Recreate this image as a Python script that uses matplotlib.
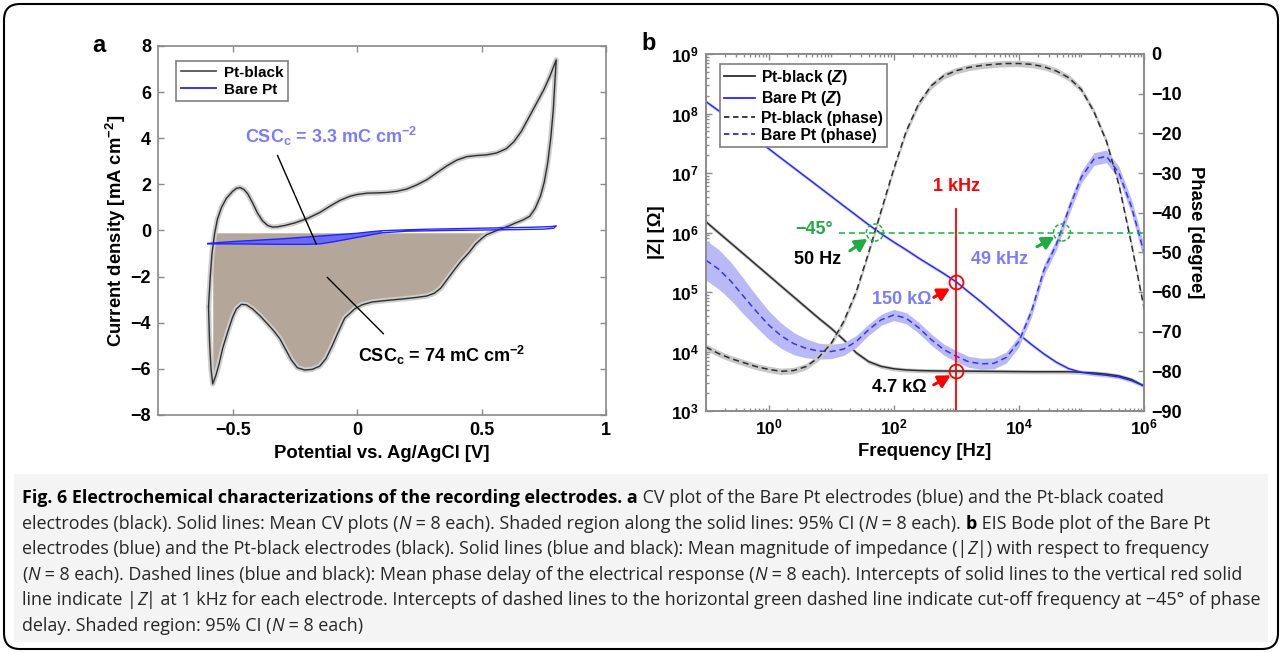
import numpy as np
import matplotlib
matplotlib.use("Agg")
import matplotlib.pyplot as plt
from matplotlib.patches import FancyBboxPatch, Rectangle
from matplotlib.transforms import IdentityTransform
from matplotlib.lines import Line2D
from matplotlib.ticker import LogLocator, NullFormatter

W, H = 1282, 653

# ---------------- panel a: CV data ----------------
# Pt-black, anodic sweep (-0.6 -> 0.8 V)
blk_an_x = [-0.597, -0.590, -0.583, -0.572, -0.561, -0.545, -0.525, -0.50, -0.485, -0.47,
            -0.455, -0.44, -0.42, -0.40, -0.38, -0.36, -0.34, -0.32, -0.29, -0.25,
            -0.20, -0.15, -0.11, -0.07, -0.03, 0.0, 0.04, 0.08, 0.12, 0.16,
            0.20, 0.24, 0.28, 0.32, 0.36, 0.40, 0.44, 0.48, 0.52, 0.56,
            0.60, 0.63, 0.66, 0.69, 0.72, 0.75, 0.775, 0.80]
blk_an_y = [-3.3, -2.0, -1.0, -0.1, 0.5, 1.0, 1.4, 1.7, 1.83, 1.86,
            1.78, 1.6, 1.2, 0.75, 0.42, 0.22, 0.15, 0.16, 0.22, 0.33,
            0.52, 0.78, 1.05, 1.3, 1.48, 1.56, 1.62, 1.63, 1.65, 1.70,
            1.80, 1.98, 2.2, 2.5, 2.8, 3.05, 3.2, 3.25, 3.28, 3.36,
            3.55, 3.85, 4.3, 4.9, 5.5, 6.1, 6.7, 7.4]
# Pt-black, cathodic sweep (0.8 -> -0.6 V)
blk_ca_x = [0.80, 0.795, 0.788, 0.778, 0.766, 0.752, 0.737, 0.715, 0.694, 0.665,
            0.637, 0.61, 0.58, 0.55, 0.52, 0.50, 0.475, 0.45, 0.42, 0.393,
            0.36, 0.336, 0.31, 0.28, 0.24, 0.18, 0.12, 0.06, 0.02, -0.01,
            -0.05, -0.08, -0.10, -0.125, -0.15, -0.18, -0.21, -0.24, -0.265, -0.29,
            -0.31, -0.335, -0.36, -0.39, -0.42, -0.445, -0.465, -0.485, -0.50, -0.52,
            -0.54, -0.555, -0.568, -0.58, -0.587, -0.593, -0.597]
blk_ca_y = [7.4, 6.5, 5.2, 4.0, 2.95, 2.1, 1.5, 0.95, 0.62, 0.45,
            0.33, 0.2, 0.08, -0.05, -0.18, -0.35, -0.6, -0.95, -1.3, -1.67,
            -2.15, -2.5, -2.72, -2.84, -2.9, -2.97, -3.03, -3.1, -3.22, -3.4,
            -3.8, -4.5, -5.0, -5.55, -5.88, -6.02, -6.05, -5.95, -5.6, -5.1,
            -4.7, -4.35, -4.05, -3.7, -3.4, -3.22, -3.2, -3.4, -3.75, -4.4,
            -5.1, -5.8, -6.3, -6.65, -6.0, -4.8, -3.3]
# Bare Pt loop
bare_an_x = [-0.60, -0.5, -0.4, -0.3, -0.2, -0.1, 0.0, 0.05, 0.1, 0.2, 0.3, 0.4, 0.5, 0.6, 0.7, 0.78, 0.80]
bare_an_y = [-0.56, -0.48, -0.42, -0.36, -0.28, -0.2, -0.12, -0.06, -0.01, 0.03, 0.06, 0.08, 0.1, 0.12, 0.14, 0.17, 0.2]
bare_ca_x = [0.80, 0.79, 0.75, 0.65, 0.5, 0.35, 0.2, 0.1, 0.05, 0.0, -0.05, -0.1, -0.15, -0.2, -0.3, -0.4, -0.5, -0.6]
bare_ca_y = [0.2, 0.1, 0.06, 0.04, 0.02, 0.0, -0.03, -0.1, -0.2, -0.3, -0.4, -0.5, -0.58, -0.6, -0.6, -0.59, -0.58, -0.58]
csc_top = -0.1  # upper bound of the charge-integration area

# ---------------- panel b: EIS data ----------------
freq_hz = [0.1, 0.158, 0.251, 0.398, 0.631, 1.0, 1.58, 2.51, 3.98, 6.31,
           10.0, 15.8, 25.1, 39.8, 63.1, 100.0, 158.0, 251.0, 398.0, 631.0,
           1e3, 1.58e3, 2.51e3, 3.98e3, 6.31e3, 1e4, 1.58e4, 2.51e4, 3.98e4, 6.31e4,
           1e5, 1.58e5, 2.51e5, 3.98e5, 6.31e5, 1e6]
bare_logz = [8.20, 8.05, 7.89, 7.73, 7.57, 7.41, 7.25, 7.09, 6.93, 6.77,
             6.61, 6.45, 6.29, 6.13, 5.98, 5.84, 5.71, 5.57, 5.44, 5.31,
             5.17, 5.00, 4.83, 4.65, 4.47, 4.29, 4.12, 3.96, 3.82, 3.71,
             3.65, 3.62, 3.60, 3.57, 3.51, 3.42]
blk_logz = [6.18, 6.00, 5.82, 5.64, 5.46, 5.28, 5.10, 4.92, 4.74, 4.56,
            4.39, 4.20, 3.98, 3.83, 3.75, 3.71, 3.69, 3.68, 3.675, 3.672,
            3.672, 3.67, 3.668, 3.666, 3.664, 3.662, 3.66, 3.66, 3.66, 3.66,
            3.65, 3.64, 3.62, 3.59, 3.53, 3.42]
blk_phase = [-73.9, -75.5, -76.8, -77.8, -78.8, -79.5, -80.0, -79.8, -78.8, -76.5,
             -73.0, -67.5, -60.0, -50.0, -39.5, -29.0, -19.5, -12.5, -8.0, -5.5,
             -4.2, -3.4, -2.9, -2.6, -2.4, -2.4, -2.6, -3.2, -4.3, -6.0,
             -9.0, -14.5, -22.0, -33.0, -48.0, -64.0]
bare_phase = [-52.0, -54.2, -57.3, -61.1, -64.8, -68.3, -71.0, -73.0, -74.2, -74.9,
              -75.0, -74.4, -72.5, -69.5, -67.0, -65.8, -66.6, -69.0, -72.0, -74.5,
              -76.2, -77.6, -78.1, -78.0, -76.5, -72.5, -65.0, -54.5, -48.0, -39.0,
              -31.0, -26.5, -25.8, -30.0, -38.5, -50.0]
bare_phase_ci = [5.0, 5.0, 4.8, 4.5, 4.0, 3.6, 3.2, 2.8, 2.4, 2.0,
                 1.8, 1.6, 1.5, 1.4, 1.4, 1.4, 1.4, 1.4, 1.4, 1.4,
                 1.4, 1.4, 1.4, 1.4, 1.4, 1.4, 1.4, 1.4, 1.4, 1.5,
                 1.5, 1.6, 1.6, 1.6, 1.8, 2.0]
blk_phase_ci = 0.8
blk_logz_ci = 0.035
bare_logz_ci = 0.03

f_1k = 1e3
z_bare_1k = 1.5e5
z_blk_1k = 4.7e3
fc_blk = 50
fc_bare = 49e3
phase_cut = -45

plt.rcParams.update({
    "font.family": ["Liberation Sans", "DejaVu Sans"],
    "font.weight": "bold",
    "axes.labelweight": "bold",
    "font.size": 13,
    "mathtext.fontset": "custom",
    "mathtext.rm": "Liberation Sans:bold",
    "mathtext.it": "Liberation Sans:italic:bold",
    "mathtext.bf": "Liberation Sans:bold",
    "mathtext.sf": "Liberation Sans:bold",
})

fig = plt.figure(figsize=(W / 100, H / 100), dpi=100)
SPINE = "#8a8a8a"
BLUE = "#2424ff"
LIGHT_BLUE = "#7b7bff"
DARK = "#2e2e2e"
GREEN = "#22aa44"

# ---------------- panel a ----------------
ax_a = fig.add_axes([158 / W, 1 - 415 / H, 448 / W, 369 / H])
ca_x = np.array(blk_ca_x)
ca_y = np.array(blk_ca_y)
sel = (ca_x <= 0.55) & (ca_x >= -0.58)
ax_a.fill_between(ca_x[sel], ca_y[sel], csc_top, color="#b4a799", lw=0, zorder=1)

bx_u = np.array(bare_an_x); by_u = np.array(bare_an_y)
bx_l = np.array(bare_ca_x); by_l = np.array(bare_ca_y)
su = bx_u <= 0.12
sl = bx_l <= 0.12
ax_a.fill(np.concatenate([bx_u[su], bx_l[sl]]), np.concatenate([by_u[su], by_l[sl]]),
          color="#6a6af2", lw=0, zorder=2)

blk_x = blk_an_x + blk_ca_x[1:]
blk_y = blk_an_y + blk_ca_y[1:]
ax_a.plot(blk_x, blk_y, color="#cdcdcd", lw=3.8, solid_joinstyle="round", zorder=3)
ax_a.plot(blk_x, blk_y, color=DARK, lw=1.0, zorder=4)
ax_a.plot(bare_an_x + bare_ca_x[1:], bare_an_y + bare_ca_y[1:], color=BLUE, lw=1.0, zorder=5)

ax_a.set_xlim(-0.8, 1)
ax_a.set_ylim(-8, 8)
ax_a.set_xticks([-0.5, 0, 0.5, 1], ["\u22120.5", "0", "0.5", "1"])
ax_a.set_yticks(range(-8, 9, 2))
ax_a.tick_params(direction="in", top=True, right=True, length=4, width=1,
                 color=SPINE, labelsize=13, pad=5)
for s in ax_a.spines.values():
    s.set_color(SPINE)
    s.set_linewidth(1.2)
ax_a.set_xlabel("Potential vs. Ag/AgCl [V]", fontsize=13.3, labelpad=4)
ax_a.set_ylabel(r"Current density [mA cm$^{-2}$]", fontsize=13.3, labelpad=2)

ax_a.text(-0.45, 4.09, r"CSC$_{\mathrm{c}}$ = 3.3 mC cm$^{-2}$", color=LIGHT_BLUE,
          fontsize=13, va="center", ha="left", zorder=6)
ax_a.annotate("", xy=(-0.164, -0.59), xytext=(-0.32, 3.26),
              arrowprops=dict(arrowstyle="-", color="k", lw=1, shrinkA=0, shrinkB=0), zorder=6)
ax_a.text(0.003, -5.4, r"CSC$_{\mathrm{c}}$ = 74 mC cm$^{-2}$", color="k",
          fontsize=13, va="center", ha="left", zorder=6)
ax_a.annotate("", xy=(-0.12, -2.03), xytext=(0.106, -4.48),
              arrowprops=dict(arrowstyle="-", color="k", lw=1, shrinkA=0, shrinkB=0), zorder=6)

leg_a = ax_a.legend([Line2D([], [], color="#555555", lw=1.3), Line2D([], [], color=BLUE, lw=1.3)],
                    ["Pt-black", "Bare Pt"], loc="upper left", bbox_to_anchor=(0.041, 0.959),
                    borderaxespad=0, fancybox=False, edgecolor="#808080", framealpha=1,
                    fontsize=11, handlelength=2.3, handletextpad=0.5, borderpad=0.3,
                    labelspacing=0.2)
leg_a.get_frame().set_linewidth(1.2)

# ---------------- panel b ----------------
f = np.array(freq_hz)
lz_bare = np.array(bare_logz)
lz_blk = np.array(blk_logz)
ph_blk = np.array(blk_phase)
ph_bare = np.array(bare_phase)
ph_bare_ci = np.array(bare_phase_ci)

ax_b = fig.add_axes([706 / W, 1 - 411 / H, 438 / W, 357 / H])
ax_b.set_xscale("log")
ax_b.set_yscale("log")
ax_b.fill_between(f, 10 ** (lz_blk - blk_logz_ci), 10 ** (lz_blk + blk_logz_ci), color="#c8c8c8", lw=0)
ax_b.plot(f, 10 ** lz_blk, color=DARK, lw=1.1)
ax_b.fill_between(f, 10 ** (lz_bare - bare_logz_ci), 10 ** (lz_bare + bare_logz_ci), color="#c8c8f6", lw=0)
ax_b.plot(f, 10 ** lz_bare, color=BLUE, lw=1.0)
ax_b.set_xlim(0.1, 1e6)
ax_b.set_ylim(1e3, 1e9)
ax_b.set_xticks([1, 1e2, 1e4, 1e6], [r"$\mathdefault{10^{%d}}$" % e for e in (0, 2, 4, 6)])
ax_b.set_yticks([10.0 ** e for e in range(3, 10)],
                [r"$\mathdefault{10^{%d}}$" % e for e in range(3, 10)])
ax_b.xaxis.set_minor_locator(LogLocator(base=10, subs=np.arange(1, 10), numticks=60))
ax_b.yaxis.set_minor_locator(LogLocator(base=10, subs=np.arange(1, 10), numticks=60))
ax_b.xaxis.set_minor_formatter(NullFormatter())
ax_b.yaxis.set_minor_formatter(NullFormatter())
ax_b.set_xlabel("Frequency [Hz]", fontsize=13.3, labelpad=4)
ax_b.set_ylabel("|Z| [\u03a9]", fontsize=13.3, labelpad=4)

ax_p = ax_b.twinx()
ax_p.fill_between(f, ph_bare - ph_bare_ci, ph_bare + ph_bare_ci, color="#b9b9f5", lw=0)
ax_p.plot(f, ph_bare, color="#3434ff", lw=1.1, ls=(0, (4, 2.5)))
ax_p.fill_between(f, ph_blk - blk_phase_ci, ph_blk + blk_phase_ci, color="#c8c8c8", lw=0)
ax_p.plot(f, ph_blk, color=DARK, lw=1.1, ls=(0, (4, 2.5)))
ax_p.set_ylim(-90, 0)
ax_p.set_yticks(range(-90, 1, 10))
ax_p.set_ylabel("Phase [degree]", fontsize=13.3, rotation=270, labelpad=16)

for a in (ax_b, ax_p):
    for s in a.spines.values():
        s.set_color(SPINE)
        s.set_linewidth(1.2)
ax_b.tick_params(which="both", direction="in", top=True, color=SPINE, width=1, labelsize=12.5)
ax_b.tick_params(which="major", length=4, pad=5)
ax_b.tick_params(which="minor", length=2.2)
ax_p.tick_params(direction="in", length=4, width=1, color=SPINE, labelsize=13, pad=5)

# 1 kHz marker (drawn on the top axes, in |Z| coordinates)
zt = ax_b.transData
red_top = 10 ** 6.4
ax_p.plot([f_1k, f_1k], [1e3, red_top], color="red", lw=1.3, transform=zt)
ax_p.plot([f_1k, f_1k], [z_bare_1k, z_blk_1k], ls="none", marker="o", ms=10, mfc="none",
          mec="red", mew=1.3, transform=zt)
ax_p.text(f_1k, 10 ** 6.77, "1 kHz", color="red", fontsize=13, ha="center", va="center", transform=zt)
ax_p.text(10 ** 2.61, 10 ** 4.88, "150 k\u03a9", color=LIGHT_BLUE, fontsize=13, ha="right",
          va="center", transform=zt)
ax_p.text(10 ** 2.53, 10 ** 3.39, "4.7 k\u03a9", color="k", fontsize=13, ha="right",
          va="center", transform=zt)
red_arrow = dict(arrowstyle="-|>,head_length=0.55,head_width=0.3", color="red", lw=2.2,
                 shrinkA=0, shrinkB=0, mutation_scale=13)
ax_p.annotate("", xy=(10 ** 2.90, 10 ** 5.06), xytext=(10 ** 2.64, 10 ** 4.91),
              xycoords=zt, textcoords=zt, arrowprops=red_arrow)
ax_p.annotate("", xy=(10 ** 2.91, 10 ** 3.60), xytext=(10 ** 2.64, 10 ** 3.44),
              xycoords=zt, textcoords=zt, arrowprops=red_arrow)

# -45 degree cut-off marker
ax_p.plot([10 ** 1.12, 1e6], [phase_cut, phase_cut], color=GREEN, lw=1.1, ls=(0, (4, 2.5)))
ax_p.scatter([fc_blk, fc_bare], [phase_cut, phase_cut], s=150, facecolors="none",
             edgecolors=GREEN, linewidths=1.1, linestyles=(0, (2.5, 1.5)), zorder=6)
ax_p.text(10 ** 1.03, -44.3, "\u221245\u00b0", color=GREEN, fontsize=13, ha="right", va="center")
ax_p.text(10 ** 0.41, -51.8, "50 Hz", color="k", fontsize=13, ha="left", va="center")
ax_p.text(10 ** 3.24, -51.8, "49 kHz", color=LIGHT_BLUE, fontsize=13, ha="left", va="center")
green_arrow = dict(arrowstyle="-|>,head_length=0.55,head_width=0.3", color=GREEN, lw=2.2,
                   shrinkA=0, shrinkB=0, mutation_scale=13)
ax_p.annotate("", xy=(10 ** 1.58, -46.6), xytext=(10 ** 1.30, -49.6), arrowprops=green_arrow)
ax_p.annotate("", xy=(10 ** 4.57, -46.1), xytext=(10 ** 4.29, -48.6), arrowprops=green_arrow)

leg_b = ax_p.legend([Line2D([], [], color=DARK, lw=1.3), Line2D([], [], color=BLUE, lw=1.3),
                     Line2D([], [], color=DARK, lw=1.3, ls=(0, (3, 2))),
                     Line2D([], [], color=BLUE, lw=1.3, ls=(0, (3, 2)))],
                    ["Pt-black ($Z$)", "Bare Pt ($Z$)", "Pt-black (phase)", "Bare Pt (phase)"],
                    loc="upper left", bbox_to_anchor=(0.031, 0.972), borderaxespad=0,
                    fancybox=False, edgecolor="#808080", framealpha=1, fontsize=11.3,
                    handlelength=2.0, handletextpad=0.4, borderpad=0.25, labelspacing=0.15)
leg_b.get_frame().set_linewidth(1.2)
leg_b.set_zorder(10)

fig.text(92 / W, 1 - 52 / H, "a", fontsize=17, ha="left", va="baseline")
fig.text(641 / W, 1 - 50 / H, "b", fontsize=17, ha="left", va="baseline")

# ---------------- caption ----------------
cap_lines = [
    [("Fig. 6 Electrochemical characterizations of the recording electrodes. a", "b"),
     (" CV plot of the Bare Pt electrodes (blue) and the Pt-black coated", "n")],
    [("electrodes (black). Solid lines: Mean CV plots (", "n"), ("N", "i"),
     (" = 8 each). Shaded region along the solid lines: 95% CI (", "n"), ("N", "i"),
     (" = 8 each). ", "n"), ("b", "b"), (" EIS Bode plot of the Bare Pt", "n")],
    [("electrodes (blue) and the Pt-black electrodes (black). Solid lines (blue and black): "
      "Mean magnitude of impedance (|", "n"), ("Z", "i"), ("|) with respect to frequency", "n")],
    [("(", "n"), ("N", "i"), (" = 8 each). Dashed lines (blue and black): Mean phase delay of the "
                             "electrical response (", "n"), ("N", "i"),
     (" = 8 each). Intercepts of solid lines to the vertical red solid", "n")],
    [("line indicate |", "n"), ("Z", "i"), ("| at 1 kHz for each electrode. Intercepts of dashed lines "
                                          "to the horizontal green dashed line indicate cut-off "
                                          "frequency at \u221245\u00b0 of phase", "n")],
    [("delay. Shaded region: 95% CI (", "n"), ("N", "i"), (" = 8 each)", "n")],
]
cap_family = ["Open Sans", "DejaVu Sans"]
renderer = fig.canvas.get_renderer()


def seg_style(kind, size):
    return dict(fontsize=size, family=cap_family,
                weight="bold" if kind == "b" else "normal",
                style="italic" if kind == "i" else "normal",
                color="k" if kind == "b" else "#262626")


def seg_width(text, kind, size):
    t = fig.text(0, 0, text + "|", **seg_style(kind, size))
    w = t.get_window_extent(renderer).width
    t.remove()
    t = fig.text(0, 0, "|", **seg_style(kind, size))
    w -= t.get_window_extent(renderer).width
    t.remove()
    return w


# largest size at which every caption line fits between x = 22 and x = 1262
line_w = [sum(seg_width(s, k, 10) for s, k in line) for line in cap_lines]
cap_size = 10 * 1240 / max(line_w)

fig.add_artist(Rectangle((14, H - 642), 1254, 168, transform=IdentityTransform(),
                         facecolor="#f4f4f4", edgecolor="none", zorder=0))
for i, line in enumerate(cap_lines):
    x = 22
    y = 503 + 25.6 * i
    for s, k in line:
        fig.text(x / W, 1 - y / H, s, ha="left", va="baseline", **seg_style(k, cap_size))
        x += seg_width(s, k, cap_size)

fig.add_artist(FancyBboxPatch((4, 4), W - 8, H - 8, boxstyle="round,pad=0,rounding_size=16",
                              transform=IdentityTransform(), fill=False, edgecolor="k", lw=1.5))

fig.savefig("out.png", dpi=100)
